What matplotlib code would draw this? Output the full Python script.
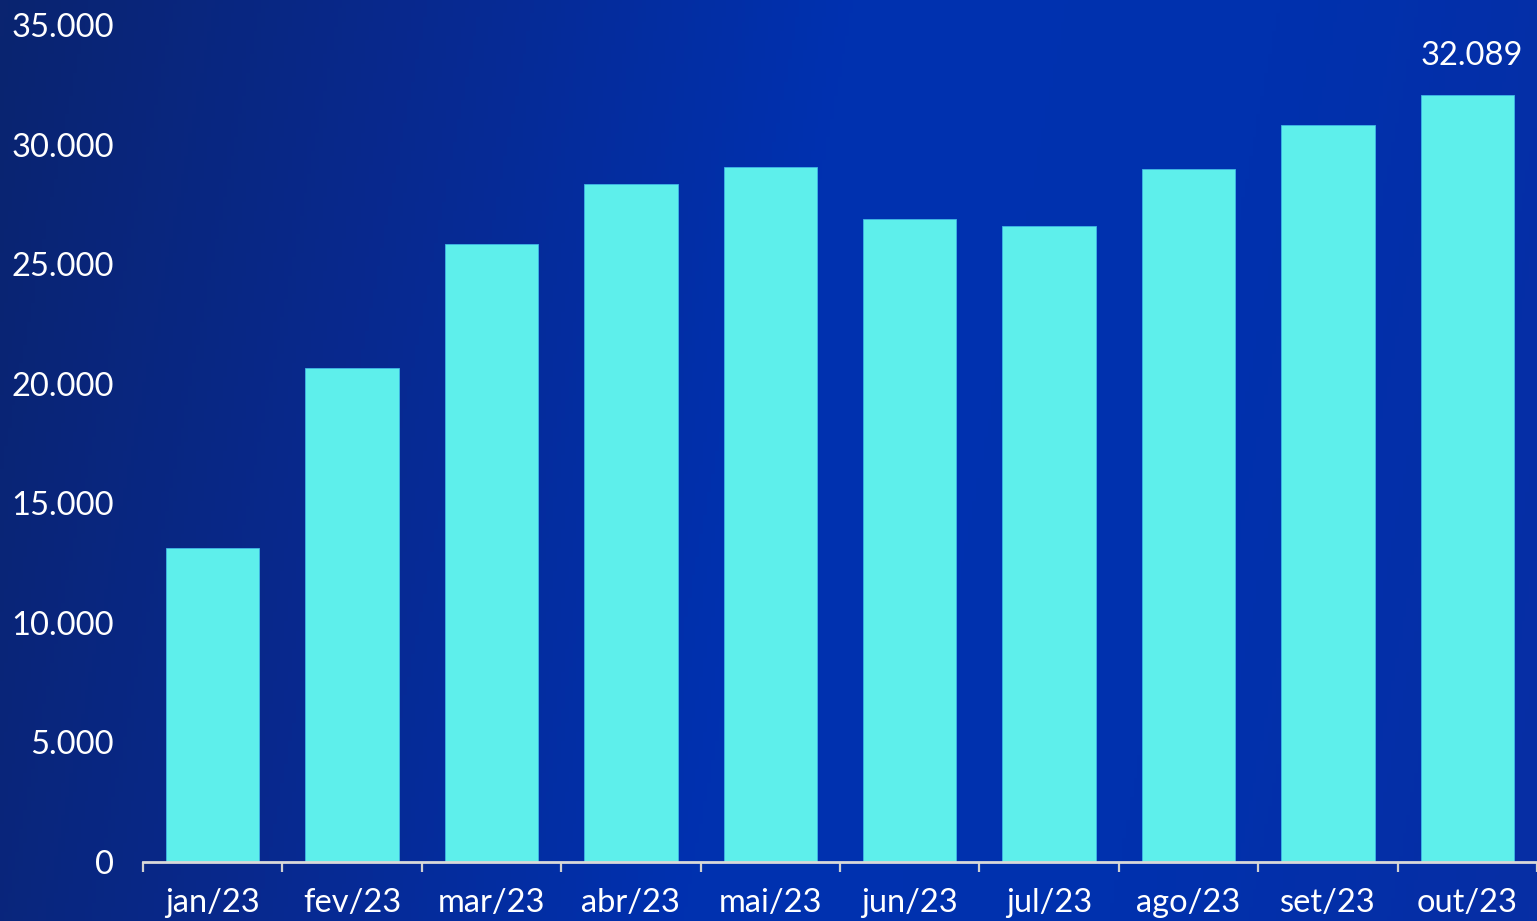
import numpy as np
import matplotlib.pyplot as plt
from matplotlib.colors import LinearSegmentedColormap

months = ['jan/23', 'fev/23', 'mar/23', 'abr/23', 'mai/23',
          'jun/23', 'jul/23', 'ago/23', 'set/23', 'out/23']
values = [13130, 20650, 25840, 28340, 29060, 26880, 26590, 28970, 30810, 32089]
yticks = [0, 5000, 10000, 15000, 20000, 25000, 30000, 35000]
ytick_labels = ['0', '5.000', '10.000', '15.000', '20.000', '25.000', '30.000', '35.000']

W, H = 1537, 921
fig = plt.figure(figsize=(W / 100, H / 100), dpi=100)

# background gradient, dark navy at the left going brighter blue to the right
bg = fig.add_axes([0, 0, 1, 1], zorder=-1)
bg.axis('off')
cmap = LinearSegmentedColormap.from_list('bg', ['#0a2470', '#08298f', '#0031b0', '#0031ae', '#072ea4'])
xx = np.linspace(0, 1, 400)[None, :]
yy = np.linspace(0, 1, 200)[:, None]
grad = xx * 0.9 + yy * 0.1
bg.imshow(grad, cmap=cmap, aspect='auto', extent=[0, 1, 0, 1])

ax = fig.add_axes([143 / W, (H - 862) / H, (W - 143) / W, (862 - 25) / H])
ax.patch.set_alpha(0)
x = np.arange(len(months))
ax.bar(x, values, width=0.67, color='#5eefeb', edgecolor='#3fb8e6', linewidth=0.6, zorder=3)

ax.set_xlim(-0.5, -0.5 + (W - 143) / 140.5)
ax.set_ylim(0, 35000)
ax.set_yticks(yticks)
ax.set_yticklabels(ytick_labels)
ax.set_xticks(x)
ax.set_xticklabels(months)
ax.set_xticks(np.arange(-0.5, len(months), 1), minor=True)

font = 'Lato'
for lab in ax.get_xticklabels() + ax.get_yticklabels():
    lab.set_fontfamily(font)
    lab.set_fontsize(23.5)
    lab.set_color('white')

ax.tick_params(axis='y', length=0, pad=21)
ax.tick_params(axis='x', which='major', length=0, pad=19)
ax.tick_params(axis='x', which='minor', length=7, width=1.6, color='#d0d0d0')

for s in ['top', 'right', 'left']:
    ax.spines[s].set_visible(False)
ax.spines['bottom'].set_color('#d9d9d9')
ax.spines['bottom'].set_linewidth(2)
ax.spines['bottom'].set_zorder(4)

ax.annotate('32.089', (x[-1], values[-1]), xytext=(3, 17), textcoords='offset points',
            ha='center', va='bottom', color='white', fontsize=23.5, fontfamily=font)

fig.savefig('out.png', dpi=100)
